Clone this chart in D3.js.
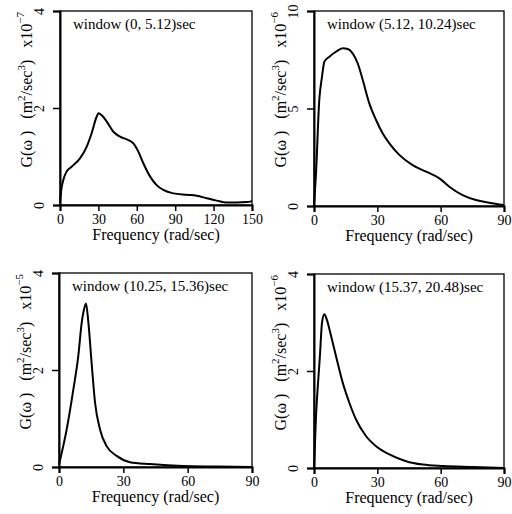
<!DOCTYPE html>
<html>
<head>
<meta charset="utf-8">
<script src="https://cdn.jsdelivr.net/npm/d3@7"></script>
<style>
  body { margin: 0; background: #fff; }
  text { font-family: "Liberation Serif", "Times New Roman", serif; fill: #000; }
</style>
</head>
<body>
<div id="chart"></div>
<script>
var w = 512;
var h = 514;

// panel 1: window (0, 5.12)sec, x10^-7
var freq1 = [0, 0.9, 2.5, 5.2, 9.1, 15.6, 20.8, 24.7, 28.6, 30, 32.6, 36.5, 41.7, 46.9, 53.4, 57.3, 61.2, 65.1, 70.3, 75.5, 80.7, 88.5, 99, 106.8, 114.6, 122.4, 130.2, 138, 145.8, 150];
var val1 = [0.04, 0.29, 0.51, 0.69, 0.79, 0.96, 1.2, 1.48, 1.82, 1.89, 1.85, 1.72, 1.51, 1.41, 1.34, 1.27, 1.1, 0.86, 0.59, 0.41, 0.31, 0.24, 0.21, 0.19, 0.14, 0.09, 0.05, 0.05, 0.06, 0.08];

// panel 2: window (5.12, 10.24)sec, x10^-6
var freq2 = [0, 0.95, 2.5, 3.8, 4.9, 7.3, 10.4, 13.6, 16, 18.3, 20.7, 23.1, 26.2, 29.4, 32.5, 35.7, 40.4, 46.7, 53.1, 59.4, 64.1, 70.4, 76.7, 83, 90];
var val2 = [0.05, 1.68, 5.44, 6.63, 7.4, 7.66, 7.91, 8.09, 8.05, 7.83, 7.32, 6.46, 5.26, 4.41, 3.73, 3.21, 2.62, 2.1, 1.76, 1.42, 0.99, 0.56, 0.31, 0.17, 0.05];

// panel 3: window (10.25, 15.36)sec, x10^-5
var freq3 = [0, 0.8, 3.6, 6.7, 9, 10.6, 12.1, 12.6, 13.7, 15.2, 16.8, 19.1, 22.2, 26.9, 33.1, 42.4, 57.9, 73.4, 90];
var val3 = [0.05, 0.2, 0.78, 1.6, 2.29, 2.98, 3.32, 3.37, 2.98, 2.15, 1.33, 0.78, 0.43, 0.23, 0.1, 0.06, 0.02, 0.01, 0];

// panel 4: window (15.37, 20.48)sec, x10^-6
var freq4 = [0, 0.95, 1.7, 2.8, 3.8, 4.9, 6, 8.1, 10.4, 13.6, 16.7, 19.9, 24.6, 29.4, 35.7, 43.6, 51.5, 61, 75.2, 90];
var val4 = [0, 1.07, 1.62, 2.31, 3.0, 3.17, 3.07, 2.72, 2.31, 1.76, 1.35, 1.0, 0.66, 0.45, 0.28, 0.14, 0.07, 0.04, 0.02, 0];

var titles = ["window (0, 5.12)sec", "window (5.12, 10.24)sec", "window (10.25, 15.36)sec", "window (15.37, 20.48)sec"];
var exponents = ["\u22127", "\u22126", "\u22125", "\u22126"];
var xTicks1 = [0, 30, 60, 90, 120, 150];
var xTicks2 = [0, 30, 60, 90];
var yTicks1 = [0, 2, 4];
var yTicks2 = [0, 5, 10];

var panels = [
  { f: freq1, v: val1, xmax: 150, ymax: 4, xt: xTicks1, yt: yTicks1, left: 60, top: 11, right: 252, bottom: 205 },
  { f: freq2, v: val2, xmax: 90, ymax: 10, xt: xTicks2, yt: yTicks2, left: 314, top: 11, right: 504, bottom: 206 },
  { f: freq3, v: val3, xmax: 90, ymax: 4, xt: xTicks2, yt: yTicks1, left: 59, top: 273, right: 252, bottom: 467 },
  { f: freq4, v: val4, xmax: 90, ymax: 4, xt: xTicks2, yt: yTicks1, left: 314, top: 274, right: 504, bottom: 468 }
];

var svg = d3.select("#chart")
            .append("svg")
            .attr("width", w)
            .attr("height", h);

panels.forEach(function(p, i) {
  var x = d3.scaleLinear().domain([0, p.xmax]).range([p.left, p.right]);
  var y = d3.scaleLinear().domain([0, p.ymax]).range([p.bottom, p.top]);
  var g = svg.append("g");

  // thin box on top and right
  g.append("rect")
    .attr("x", p.left).attr("y", p.top)
    .attr("width", p.right - p.left).attr("height", p.bottom - p.top)
    .attr("fill", "none").attr("stroke", "#000").attr("stroke-width", 1.3);

  var xAxis = g.append("g")
    .attr("transform", "translate(0," + p.bottom + ")")
    .call(d3.axisBottom(x).tickValues(p.xt).tickSize(6).tickPadding(3).tickFormat(d3.format("d")));
  xAxis.select(".domain").attr("stroke-width", 2);
  xAxis.selectAll("line").attr("stroke-width", 1.5);
  xAxis.selectAll("text").style("font-size", "14px");

  var yAxis = g.append("g")
    .attr("transform", "translate(" + p.left + ",0)")
    .call(d3.axisLeft(y).tickValues(p.yt).tickSize(7).tickFormat(d3.format("d")));
  yAxis.select(".domain").attr("stroke-width", 2);
  yAxis.selectAll("line").attr("stroke-width", 1.5);
  yAxis.selectAll(".tick text")
    .attr("x", null).attr("dy", null)
    .attr("text-anchor", "middle")
    .attr("transform", "translate(-16,0) rotate(-90)")
    .style("font-size", "14px");

  var line = d3.line()
    .x(function(d, k) { return x(p.f[k]); })
    .y(function(d, k) { return y(p.v[k]); })
    .curve(d3.curveMonotoneX);

  g.append("path")
    .datum(p.v)
    .attr("d", line)
    .attr("fill", "none")
    .attr("stroke", "#000")
    .attr("stroke-width", 2);

  g.append("text")
    .attr("x", p.left + 13)
    .attr("y", p.top + 18)
    .style("font-size", "15px")
    .text(titles[i]);

  g.append("text")
    .attr("x", (p.left + p.right) / 2)
    .attr("y", p.bottom + 35)
    .attr("text-anchor", "middle")
    .style("font-size", "16px")
    .text("Frequency (rad/sec)");

  var lab = g.append("text")
    .attr("transform", "translate(" + (p.left - 28) + "," + (p.top + 1) + ") rotate(-90)")
    .attr("text-anchor", "end")
    .style("font-size", "16px")
    .style("white-space", "pre");
  lab.append("tspan").text("G(\u03c9 )   (m");
  lab.append("tspan").attr("dy", -7).style("font-size", "11px").text("2");
  lab.append("tspan").attr("dy", 7).text("/sec");
  lab.append("tspan").attr("dy", -7).style("font-size", "11px").text("3");
  lab.append("tspan").attr("dy", 7).text(")   x10");
  lab.append("tspan").attr("dy", -8).style("font-size", "11px").text(exponents[i]);
});
</script>
</body>
</html>
